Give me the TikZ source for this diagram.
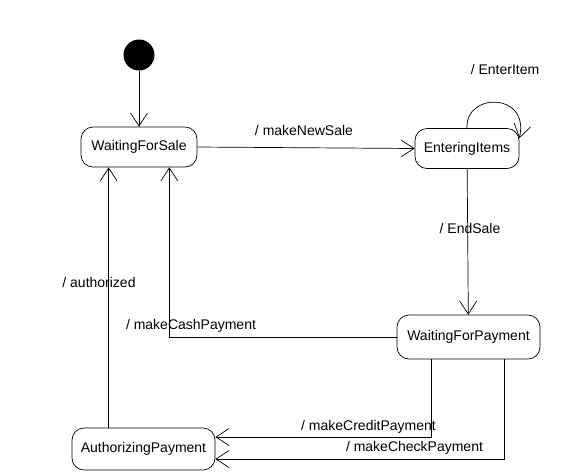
\documentclass[tikz,border=0pt]{standalone}
\usepackage{fontspec}
\setmainfont{Liberation Sans}
\usetikzlibrary{calc}
\usetikzlibrary{arrows.meta}

\begin{document}
\begin{tikzpicture}[x=1pt,y=-1pt,
        font=\fontsize{14}{16}\selectfont,
        >={Straight Barb[length=13pt,width=17pt]},
        line width=0.7pt,
        state/.style={draw, rounded corners=12pt, inner sep=0pt},
        initial/.style={circle, fill=black, minimum size=31pt, inner sep=0pt},
        lbl/.style={inner sep=1pt}]
            % Fix the page size
            \useasboundingbox (0,0) rectangle (575,475);

            % Draw the states
            \node[initial] (init) at (139,55) {};
            \node[state, minimum width=116pt, minimum height=40pt] (WFS) at (139,147) {WaitingForSale};
            \node[state, minimum width=104pt, minimum height=40pt] (EI) at (467,148.5) {EnteringItems};
            \node[state, minimum width=143pt, minimum height=44pt] (WFP) at (468.5,337) {WaitingForPayment};
            \node[state, minimum width=143pt, minimum height=42pt] (AP) at (143.5,449) {AuthorizingPayment};

            % Helper coordinates for the connectors
            \coordinate (cAuth) at ($(WFS.south west)+(28,0)$);
            \coordinate (cCash) at ($(WFS.south east)+(-28,0)$);
            \coordinate (cLoop) at ($(EI.north east)+(0,10)$);
            \coordinate (cCredit) at ($(WFP.south west)+(35,0)$);
            \coordinate (cCheck) at ($(WFP.south east)+(-36,0)$);

            % Draw the transitions
            \draw[->] (init) -- (WFS);
            \draw[->] (WFS.east) -- (EI.west);
            \draw[->] (EI.north) .. controls (465,92) and (530,92) .. (cLoop);
            \draw[->] (EI) -- (WFP);
            \draw[->] (WFP.west) -| (cCash);
            \draw[->] (AP.north -| cAuth) -- (cAuth);
            \draw[->] (cCredit) |- ($(AP.east)+(0,-12)$);
            \draw[->] (cCheck) |- ($(AP.east)+(0,10)$);

            % Draw the transition labels
            \node[lbl] (lNewSale) at (304,130) {/ makeNewSale};
            \node[lbl] (lEnterItem) at (505,69) {/ EnterItem};
            \node[lbl] (lEndSale) at (470,228) {/ EndSale};
            \node[lbl] (lAuth) at (99,282) {/ authorized};
            \node[lbl] (lCash) at (191,326) {/ makeCashPayment};
            \node[lbl] (lCredit) at (368.5,427) {/ makeCreditPayment};
            \node[lbl] (lCheck) at (414.5,448) {/ makeCheckPayment};
\end{tikzpicture}
\end{document}
